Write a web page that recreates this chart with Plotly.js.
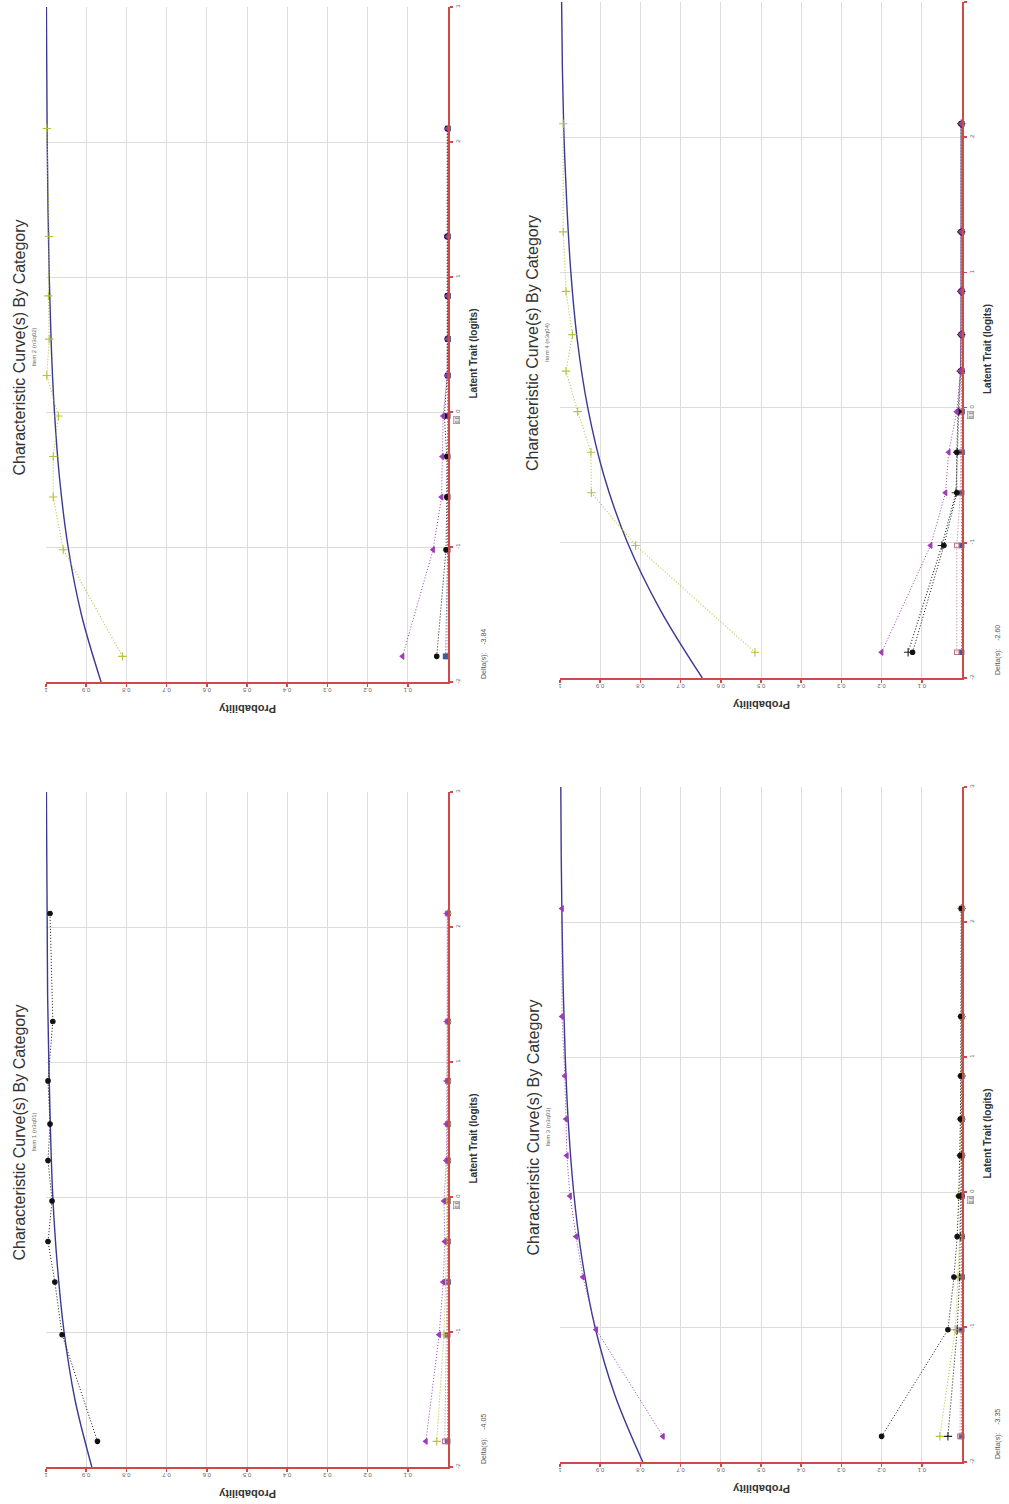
<!DOCTYPE html>
<html><head><meta charset="utf-8">
<script src="https://cdn.plot.ly/plotly-3.0.1.min.js"></script>
<style>html,body{margin:0;padding:0;background:#fff}#chart{width:1009px;height:1504px}</style>
</head><body><div id="chart"></div>
<script>
// ---- data ----
const thetaGroups = [-1.81, -1.02, -0.63, -0.33, -0.03, 0.27, 0.54, 0.86, 1.30, 2.10];
const curveTheta = [-2, -1.5, -1, -0.5, 0, 0.5, 1, 1.5, 2, 2.5, 3];
const probTicks = [1, 0.9, 0.8, 0.7, 0.6, 0.5, 0.4, 0.3, 0.2, 0.1];
const probTickText = ['1', '0.9', '0.8', '0.7', '0.6', '0.5', '0.4', '0.3', '0.2', '0.1'];
const thetaTicks = [-2, -1, 0, 1, 2, 3];
const thetaTickText = ['-2', '-1', '0', '1', '2', '3'];
const chartTitle = 'Characteristic Curve(s) By Category';
const itemNames = ['Item 2 (n3q02)', 'Item 4 (n3q04)', 'Item 1 (n3q01)', 'Item 3 (n3q03)'];
const deltaValues = ['-3.84', '-2.60', '-4.05', '-3.35'];

// Item 2
const item2Curve  = [0.863, 0.912, 0.945, 0.966, 0.979, 0.987, 0.992, 0.995, 0.997, 0.998, 0.999];
const item2Olive  = [0.81, 0.957, 0.982, 0.982, 0.969, 0.998, 0.992, 0.994, 0.992, 0.998];
const item2Purple = [0.113, 0.037, 0.016, 0.014, 0.012, 0.002, 0.001, 0.001, 0.001, 0.001];
const item2Black  = [0.028, 0.005, 0.003, 0.003, 0.009, 0.002, 0.002, 0.002, 0.003, 0.002];
const item2Blue   = [0.006, 0.001, 0.001, 0.001, 0.001, 0.000, 0.000, 0.000, 0.000, 0.000];
const item2Pink   = [0.002, 0.001, 0.001, 0.001, 0.001, 0.000, 0.000, 0.000, 0.000, 0.000];

// Item 4
const item4Curve  = [0.646, 0.750, 0.832, 0.891, 0.931, 0.957, 0.973, 0.983, 0.990, 0.994, 0.996];
const item4Olive  = [0.515, 0.812, 0.922, 0.923, 0.956, 0.985, 0.969, 0.985, 0.992, 0.992];
const item4Purple = [0.200, 0.078, 0.041, 0.033, 0.013, 0.004, 0.003, 0.003, 0.002, 0.002];
const item4Black  = [0.123, 0.045, 0.013, 0.013, 0.010, 0.004, 0.003, 0.003, 0.003, 0.003];
const item4Cross  = [0.134, 0.050, 0.015, 0.012, 0.008, 0.003, 0.002, 0.002, 0.002, 0.002];
const item4Pink   = [0.013, 0.013, 0.004, 0.003, 0.002, 0.001, 0.001, 0.001, 0.001, 0.001];
const item4Blue   = [0.001, 0.001, 0.001, 0.000, 0.000, 0.000, 0.000, 0.000, 0.000, 0.000];

// Item 1
const item1Curve  = [0.886, 0.928, 0.955, 0.972, 0.983, 0.989, 0.993, 0.996, 0.997, 0.998, 0.999];
const item1Black  = [0.872, 0.960, 0.978, 0.995, 0.985, 0.995, 0.990, 0.995, 0.983, 0.990];
const item1Purple = [0.055, 0.022, 0.012, 0.008, 0.010, 0.004, 0.003, 0.002, 0.002, 0.002];
const item1Olive  = [0.028, 0.010, 0.006, 0.004, 0.003, 0.002, 0.002, 0.002, 0.001, 0.001];
const item1Pink   = [0.008, 0.004, 0.002, 0.001, 0.001, 0.001, 0.001, 0.001, 0.001, 0.001];
const item1Blue   = [0.001, 0.001, 0.000, 0.000, 0.000, 0.000, 0.000, 0.000, 0.000, 0.000];

// Item 3
const item3Curve  = [0.794, 0.864, 0.913, 0.945, 0.966, 0.979, 0.987, 0.992, 0.995, 0.997, 0.998];
const item3Purple = [0.744, 0.910, 0.943, 0.960, 0.975, 0.983, 0.985, 0.988, 0.995, 0.995];
const item3Black  = [0.200, 0.035, 0.020, 0.012, 0.008, 0.005, 0.004, 0.003, 0.003, 0.002];
const item3Olive  = [0.055, 0.017, 0.010, 0.006, 0.008, 0.004, 0.003, 0.002, 0.002, 0.002];
const item3Cross  = [0.035, 0.012, 0.006, 0.004, 0.003, 0.002, 0.002, 0.001, 0.001, 0.001];
const item3Pink   = [0.005, 0.002, 0.002, 0.001, 0.001, 0.001, 0.001, 0.001, 0.001, 0.001];
const item3Blue   = [0.001, 0.001, 0.000, 0.000, 0.000, 0.000, 0.000, 0.000, 0.000, 0.000];

// ---- styles / layout ----
const W = 1009, H = 1504;
const STY = {
  olive:  {color: '#b5c23c', symbol: 'cross-thin-open', size: 6, lw: 1.1},
  purple: {color: '#a03ab8', symbol: 'triangle-left', size: 5, lw: 1},
  black:  {color: '#111111', symbol: 'circle', size: 4.5, lw: 1},
  cross:  {color: '#222222', symbol: 'cross-thin-open', size: 6, lw: 1.1},
  blue:   {color: '#3a5d96', symbol: 'square', size: 4.5, lw: 1},
  pink:   {color: '#c07888', symbol: 'square-open', size: 4.5, lw: 1}
};
const panels = [
  {box: {L: 46, R: 448, T: 7, B: 682}, curve: item2Curve,
   series: [[item2Pink, 'pink'], [item2Blue, 'blue'], [item2Black, 'black'], [item2Purple, 'purple'], [item2Olive, 'olive']]},
  {box: {L: 560, R: 962, T: 2, B: 678}, curve: item4Curve,
   series: [[item4Blue, 'blue'], [item4Pink, 'pink'], [item4Cross, 'cross'], [item4Black, 'black'], [item4Purple, 'purple'], [item4Olive, 'olive']]},
  {box: {L: 46, R: 448, T: 792, B: 1467}, curve: item1Curve,
   series: [[item1Blue, 'blue'], [item1Pink, 'pink'], [item1Olive, 'olive'], [item1Purple, 'purple'], [item1Black, 'black']]},
  {box: {L: 560, R: 962, T: 787, B: 1462}, curve: item3Curve,
   series: [[item3Blue, 'blue'], [item3Pink, 'pink'], [item3Cross, 'cross'], [item3Olive, 'olive'], [item3Black, 'black'], [item3Purple, 'purple']]}
];

const px = v => v / W, py = v => 1 - v / H;
const traces = [];
const FONT = 'Liberation Sans, Arial, sans-serif';
const layout = {
  width: W, height: H, margin: {l: 0, r: 0, t: 0, b: 0},
  paper_bgcolor: '#ffffff', plot_bgcolor: '#ffffff', showlegend: false,
  font: {family: FONT, color: '#444'},
  annotations: []
};

panels.forEach((p, i) => {
  const k = i + 1, sfx = k > 1 ? String(k) : '';
  const xa = 'x' + sfx, ya = 'y' + sfx;
  const b = p.box;
  const n = p.series.length;
  p.series.forEach(([vals, sn], j) => {
    const s = STY[sn];
    const tr = {x: vals, y: thetaGroups, xaxis: xa, yaxis: ya, type: 'scatter', mode: 'lines+markers',
      line: {color: s.color, width: s.lw, dash: '1px,2px'},
      marker: {symbol: s.symbol, size: s.size, color: s.color, line: {color: s.color, width: 1.1}},
      cliponaxis: false, hoverinfo: 'skip'};
    if (j === n - 1) {
      traces.push({x: p.curve, y: curveTheta, xaxis: xa, yaxis: ya, type: 'scatter', mode: 'lines',
        line: {color: '#3a3a90', width: 1.4, shape: 'spline'}, hoverinfo: 'skip'});
    }
    traces.push(tr);
  });

  layout['xaxis' + sfx] = {
    domain: [px(b.L), px(b.R)], range: [1, 0], anchor: ya, side: 'bottom',
    tickmode: 'array', tickvals: probTicks, ticktext: probTickText, tickangle: 180,
    tickfont: {size: 6, color: '#666', family: FONT},
    ticks: 'outside', ticklen: 3, tickcolor: '#d04848', tickwidth: 1.5,
    showgrid: true, gridcolor: '#dcdcdc', gridwidth: 1, zeroline: false,
    showline: true, linecolor: '#d04848', linewidth: 2.2, fixedrange: true
  };
  layout['yaxis' + sfx] = {
    domain: [py(b.B), py(b.T)], range: [-2, 3], anchor: xa, side: 'right',
    tickmode: 'array', tickvals: thetaTicks, ticktext: thetaTickText, tickangle: -90,
    tickfont: {size: 6, color: '#666', family: FONT},
    ticks: 'outside', ticklen: 3, tickcolor: '#d04848', tickwidth: 1.5,
    showgrid: true, gridcolor: '#dcdcdc', gridwidth: 1, zeroline: false,
    showline: true, linecolor: '#d04848', linewidth: 2.2, fixedrange: true
  };
  const cy = (b.T + b.B) / 2 + 3;
  const ann = (text, x, y, angle, size, bold, extra) => layout.annotations.push(Object.assign({
    text: bold ? '<b>' + text + '</b>' : text, xref: 'paper', yref: 'paper', x: px(x), y: py(y),
    xanchor: 'center', yanchor: 'middle', textangle: angle, showarrow: false,
    font: {family: FONT, size: size, color: '#333'}
  }, extra || {}));
  ann(chartTitle, b.L - 27, cy, -90, 16, false);
  ann(itemNames[i], b.L - 13, cy, -90, 6, false, {font: {family: FONT, size: 6, color: '#666'}});
  ann('Probability', (b.L + b.R) / 2, b.B + 27, 180, 11, true);
  ann('Latent Trait (logits)', b.R + 25, cy + 6, -90, 10, true);
  ann('Delta(s):&nbsp;&nbsp;&nbsp;&nbsp;' + deltaValues[i], b.R + 36, b.B - 28, -90, 7, false, {font: {family: FONT, size: 7, color: '#555'}});
  ann('0.0', b.R + 8, b.T + 413, -90, 5, false, {font: {family: FONT, size: 5, color: '#555'}, bgcolor: '#e6e6e6', bordercolor: '#888', borderwidth: 0.6, borderpad: 0});
});

Plotly.newPlot('chart', traces, layout, {staticPlot: true, displayModeBar: false});
</script>
</body></html>
